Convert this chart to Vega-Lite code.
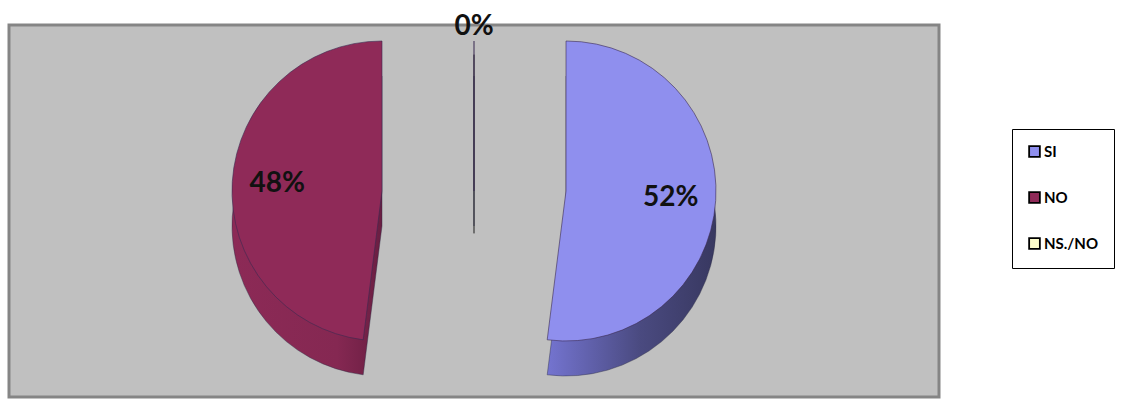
{
  "$schema": "https://vega.github.io/schema/vega-lite/v6.json",
  "width": 930,
  "height": 372,
  "autosize": {"type": "none"},
  "padding": {"left": 9, "top": 25, "right": 205, "bottom": 6},
  "background": "white",
  "view": {"fill": "#C0C0C0", "stroke": "#858585", "strokeWidth": 3},
  "config": {"font": "Lato"},
  "data": {
    "values": [
      {"answer": "SI", "share": 0.52, "order": 1},
      {"answer": "NO", "share": 0.48, "order": 2},
      {"answer": "NS./NO", "share": 0, "order": 3}
    ]
  },
  "layer": [
    {
      "description": "leader line of the 0% label",
      "mark": {"type": "rule", "color": "#6A6A6A", "strokeWidth": 1.2},
      "encoding": {
        "x": {"datum": 0, "type": "quantitative", "scale": {"domain": [-1, 1]}, "axis": null},
        "y": {"datum": 0.84, "type": "quantitative", "scale": {"domain": [-1, 1]}, "axis": null},
        "y2": {"datum": -0.12}
      }
    },
    {
      "mark": {
        "type": "arc",
        "outerRadius": 150,
        "yOffset": 15,
        "xOffset": {"expr": "datum.answer === 'SI' ? 92 : datum.answer === 'NO' ? -92 : 0"},
        "fill": {"expr": "datum.answer === 'SI' ? {gradient: 'linear', x1: 0, y1: 0, x2: 1, y2: 0, stops: [{offset: 0, color: '#7474D0'}, {offset: 0.55, color: '#4A4A80'}, {offset: 1, color: '#383860'}]} : {gradient: 'linear', x1: 0, y1: 0, x2: 1, y2: 0, stops: [{offset: 0, color: '#8C2A56'}, {offset: 0.7, color: '#852852'}, {offset: 1, color: '#6A1E42'}]}"},
        "stroke": "#2A2A40",
        "strokeWidth": 0.6,
        "strokeOpacity": 0.7
      },
      "encoding": {
        "theta": {"field": "share", "type": "quantitative", "stack": true},
        "order": {"field": "order", "type": "quantitative"}
      }
    },
    {
      "mark": {
        "type": "arc",
        "outerRadius": 150,
        "yOffset": -20,
        "xOffset": {"expr": "datum.answer === 'SI' ? 92 : datum.answer === 'NO' ? -92 : 0"},
        "stroke": "#3A2A50",
        "strokeWidth": 0.6
      },
      "encoding": {
        "theta": {"field": "share", "type": "quantitative", "stack": true},
        "order": {"field": "order", "type": "quantitative"},
        "color": {
          "field": "answer",
          "type": "nominal",
          "scale": {"domain": ["SI", "NO", "NS./NO"], "range": ["#8F8FEE", "#8F2A58", "#FFFFCC"]},
          "legend": {
            "title": null,
            "orient": "none",
            "legendX": 1003,
            "legendY": 104,
            "direction": "vertical",
            "fillColor": "white",
            "strokeColor": "#000000",
            "padding": 15,
            "rowPadding": 27,
            "symbolType": "square",
            "symbolSize": 115,
            "symbolStrokeColor": "#000000",
            "symbolStrokeWidth": 1.8,
            "symbolOpacity": 1,
            "labelFont": "Lato",
            "labelFontWeight": "bold",
            "labelFontSize": 15,
            "labelColor": "#000000",
            "labelOffset": 2,
            "labelLimit": 90
          }
        }
      }
    },
    {
      "mark": {
        "type": "text",
        "radius": {"expr": "datum.answer === 'NS./NO' ? 164 : 105"},
        "yOffset": -20,
        "xOffset": {"expr": "datum.answer === 'SI' ? 92 : datum.answer === 'NO' ? -92 : 0"},
        "fontSize": 28,
        "fontWeight": "bold",
        "font": "Lato",
        "color": "#111111",
        "baseline": "middle",
        "align": "center"
      },
      "encoding": {
        "theta": {"field": "share", "type": "quantitative", "stack": true},
        "order": {"field": "order", "type": "quantitative"},
        "text": {"field": "share", "type": "quantitative", "format": ".0%"}
      }
    }
  ]
}
